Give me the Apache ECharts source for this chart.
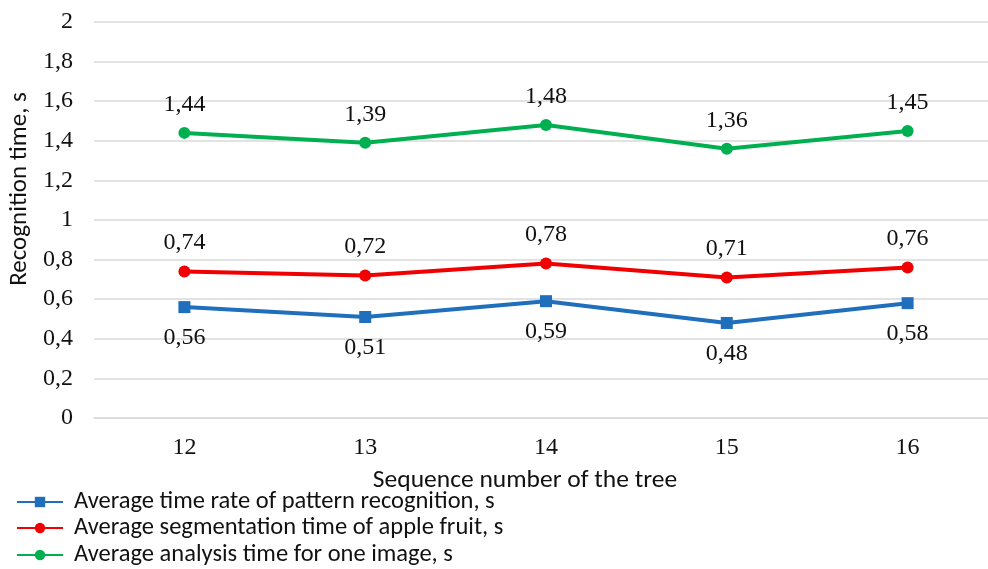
<!DOCTYPE html>
<html>
<head>
<meta charset="utf-8">
<script src="https://cdn.jsdelivr.net/npm/echarts@6/dist/echarts.min.js"></script>
<style>
  html, body { margin: 0; padding: 0; background: #fff; }
  #chart { width: 988px; height: 569px; }
</style>
</head>
<body>
<div id="chart"></div>
<script>
// Tree sequence numbers along the horizontal axis
const trees = [12, 13, 14, 15, 16];

// Timing series, seconds
const patternRecognition = [0.56, 0.51, 0.59, 0.48, 0.58];
const appleSegmentation = [0.74, 0.72, 0.78, 0.71, 0.76];
const imageAnalysis = [1.44, 1.39, 1.48, 1.36, 1.45];

const seriesNames = [
  'Average time rate of pattern recognition, s',
  'Average segmentation time of apple fruit, s',
  'Average analysis time for one image, s'
];

const yAxisTitle = 'Recognition time, s';
const xAxisTitle = 'Sequence number of the tree';

const serif = 'Liberation Serif';
const sans = 'Carlito, Lato, sans-serif';

// Decimal comma formatting
function commaNum(v) {
  const r = Math.round(v * 100) / 100;
  return String(r).replace('.', ',');
}

// Plot area: each tree occupies one band; the last band runs past the right edge
const plotLeft = 94;
const plotWidth = 894;
const bandPx = 180.8;
const xMin = trees[0] - 0.5;
const xMax = xMin + plotWidth / bandPx;

function lineSeries(name, values, color, symbol, symbolSize, labelPos, labelDist) {
  return {
    name: name,
    type: 'line',
    data: trees.map((t, i) => [t, values[i]]),
    symbol: symbol,
    symbolSize: symbolSize,
    showAllSymbol: true,
    lineStyle: { color: color, width: 4 },
    itemStyle: { color: color },
    label: {
      show: true,
      position: labelPos,
      distance: labelDist,
      fontFamily: serif,
      fontSize: 24,
      color: '#111',
      formatter: p => commaNum(p.value[1])
    },
    emphasis: { disabled: true },
    animation: false
  };
}

// One legend row per series, stacked under the axis title
const legendTops = [489.5, 515.5, 542.5];
const legends = seriesNames.map((name, i) => ({
  orient: 'vertical',
  left: 16,
  top: legendTops[i],
  padding: 0,
  itemWidth: 46,
  itemHeight: 13,
  textStyle: { fontFamily: sans, fontSize: 24.5, lineHeight: 25, color: '#111', padding: [0, 0, 0, 6] },
  data: [name]
}));

const chart = echarts.init(document.getElementById('chart'));
chart.setOption({
  backgroundColor: '#fff',
  animation: false,
  grid: { left: plotLeft, top: 22, width: plotWidth, height: 396, containLabel: false },
  legend: legends,
  xAxis: {
    type: 'value',
    min: xMin,
    max: xMax,
    axisLine: { show: true, lineStyle: { color: '#d9d9d9', width: 1.5 } },
    axisTick: { show: false },
    splitLine: { show: false },
    axisLabel: {
      fontFamily: serif, fontSize: 24, color: '#111', margin: 18,
      customValues: trees,
      formatter: v => String(v)
    }
  },
  yAxis: {
    type: 'value',
    min: 0,
    max: 2,
    interval: 0.2,
    axisLine: { show: false },
    axisTick: { show: false },
    splitLine: { lineStyle: { color: '#d9d9d9', width: 1.5 } },
    axisLabel: {
      fontFamily: serif, fontSize: 24, color: '#111', margin: 21,
      formatter: v => commaNum(Math.round(v * 10) / 10)
    }
  },
  graphic: [
    {
      type: 'text',
      x: 20,
      y: 189,
      rotation: Math.PI / 2,
      style: {
        text: yAxisTitle,
        fontFamily: sans,
        fontSize: 25,
        fill: '#111',
        align: 'center',
        verticalAlign: 'middle'
      }
    },
    {
      type: 'text',
      x: 525,
      y: 481,
      style: {
        text: xAxisTitle,
        fontFamily: sans,
        fontSize: 25.5,
        fill: '#111',
        align: 'center',
        verticalAlign: 'middle'
      }
    }
  ],
  series: [
    lineSeries(seriesNames[0], patternRecognition, '#1f6fbd', 'rect', 12, 'bottom', 13),
    lineSeries(seriesNames[1], appleSegmentation, '#f00000', 'circle', 12, 'top', 11),
    lineSeries(seriesNames[2], imageAnalysis, '#00b050', 'circle', 12, 'top', 10)
  ]
});
</script>
</body>
</html>
